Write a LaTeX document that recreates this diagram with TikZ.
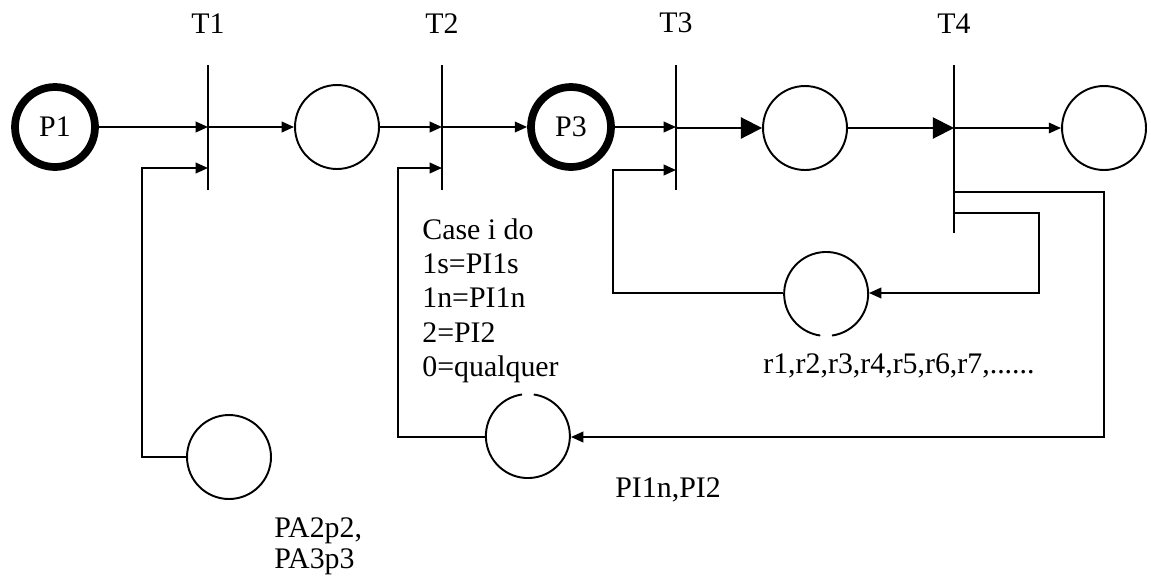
\documentclass[tikz,border=0pt]{standalone}
\usepackage{fontspec}
\setmainfont{Liberation Serif}
\usetikzlibrary{arrows.meta,positioning,calc}
\tikzset{
  place/.style={circle, draw, line width=1.1pt, minimum size=1.68cm, inner sep=0pt},
  marked/.style={circle, draw, line width=4.4pt, minimum size=1.6cm, inner sep=0pt, font=\fontsize{17}{19.6}\selectfont},
  trans/.style={rectangle, draw, line width=1.1pt, minimum width=0pt, inner sep=0pt, outer sep=0pt,
    label={[lbl, label distance=18pt]above:#1}},
  flow/.style={-{Triangle[length=7pt,width=6pt]}, line width=1.1pt},
  bigflow/.style={-{Triangle[length=12pt,width=12pt]}, line width=1.1pt},
  wire/.style={line width=1.1pt},
  lbl/.style={font=\fontsize{17}{19.6}\selectfont, align=left, inner sep=0pt}
}
\begin{document}
\begin{tikzpicture}[x=0.02cm, y=-0.02cm]
  \useasboundingbox (0,0) rectangle (1151,575);
  % places
  \node[marked] (P1) at (55,127) {P1};
  \node[place] (P2) at (337,127) {};
  \node[marked] (P3) at (571,127) {P3};
  \node[place] (P4) at (805,128) {};
  \node[place] (P5) at (1104,128) {};
  \node[place, draw=none] (R) at (826,293) {};
  \node[place, draw=none] (PI) at (528,437) {};
  \node[place] (PA) at (229,457) {};
  \draw[wire] (R.-82) arc[start angle=-82, end angle=262, radius=0.84cm];
  \draw[wire] (PI.98) arc[start angle=98, end angle=442, radius=0.84cm];
  % transitions
  \node[trans=T1, minimum height=2.5cm] (T1) at (208,127.5) {};
  \node[trans=T2, minimum height=2.5cm] (T2) at (442,127.5) {};
  \node[trans=T3, minimum height=2.5cm] (T3) at (676,127.5) {};
  \node[trans=T4, minimum height=3.36cm] (T4) at (954,149) {};
  \coordinate (in1) at (208,168);
  \coordinate (in2) at (442,168);
  \coordinate (in3) at (676,170);
  \coordinate (out1) at (954,192);
  \coordinate (out2) at (954,213);
  % main flow
  \draw[flow] (P1.east) -- (P1.east -| T1);
  \draw[flow] (P2.west -| T1) -- (P2.west);
  \draw[flow] (P2.east) -- (P2.east -| T2);
  \draw[flow] (P3.west -| T2) -- (P3.west);
  \draw[flow] (P3.east) -- (P3.east -| T3);
  \draw[bigflow] (P4.west -| T3) -- (P4.west);
  \draw[bigflow] (P4.east) -- (P4.east -| T4);
  \draw[flow] (P5.west -| T4) -- (P5.west);
  % feedback
  \draw[flow] (PA.west) -- ++(-44,0) |- (in1);
  \draw[flow] (PI.west) -- ++(-87,0) |- (in2);
  \draw[flow] (R.west) -- ++(-170,0) |- (in3);
  \draw[flow] (out1) -- (1104,192) |- (PI.east);
  \draw[flow] (out2) -- (1039,213) |- (R.east);
  % labels
  \node[lbl, anchor=north west] (case) at (422,218) {Case i do\\1s=PI1s\\1n=PI1n\\2=PI2\\0=qualquer};
  \node[lbl, anchor=base west] (rlab) at (763,373) {r1,r2,r3,r4,r5,r6,r7,......};
  \node[lbl, anchor=base west] (pilab) at (615,497) {PI1n,PI2};
  \node[lbl, anchor=north west, font=\fontsize{17}{17.6}\selectfont] (palab) at (274,517) {PA2p2,\\PA3p3};
\end{tikzpicture}
\end{document}
